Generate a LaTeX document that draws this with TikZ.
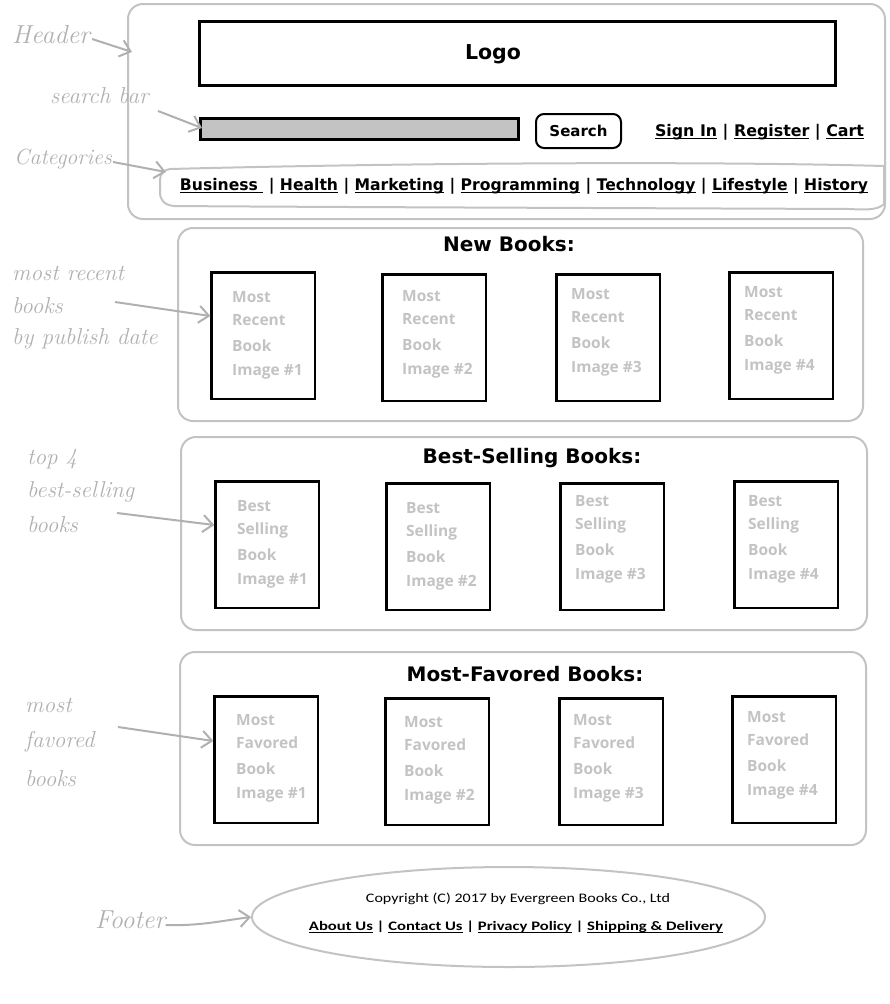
\documentclass[tikz,border=0pt]{standalone}
\usepackage{graphicx}
\usepackage{fontspec}
\setmainfont{Open Sans}
\newfontfamily\djfont{DejaVu Sans}
\newfontfamily\carlfont{Carlito}
\newfontfamily\annfont{Latin Modern Roman}
\usetikzlibrary{arrows.meta,shapes.geometric}
\definecolor{lg}{HTML}{C3C3C3}
\definecolor{ann}{HTML}{B0B0B0}
\newsavebox\lnkbox
\newcommand\lnk[1]{\sbox\lnkbox{#1}\rlap{\rule[-2.6pt]{\wd\lnkbox}{1.3pt}}\usebox\lnkbox}
\newcommand\flnk[1]{\sbox\lnkbox{#1}\rlap{\rule[-2.2pt]{\wd\lnkbox}{1.1pt}}\usebox\lnkbox}
\newcommand\bookbox[8]{%
  \node[imgbox, anchor=north west] (#1) at (#2+1.4,#3+1.4) {};
  \node[imgtxt] (#1a) at (#4,#5+6) {#6};
  \node[imgtxt] (#1b) at (#4,#5+29) {#7};
  \node[imgtxt] (#1c) at (#4,#5+55) {Book};
  \node[imgtxt] (#1d) at (#4,#5+79) {Image \##8};
}
\begin{document}
\begin{tikzpicture}[x=1pt,y=-1pt,
  panel/.style={draw=lg, line width=2pt, rounded corners=15pt, inner sep=0pt},
  imgbox/.style={draw=black, line width=2.8pt, minimum width=103.2pt, minimum height=126.2pt, inner sep=0pt},
  imgtxt/.style={text=lg, font=\bfseries\fontsize{15.5}{16}\selectfont, anchor=base west, inner sep=0pt},
  title/.style={font=\djfont\bfseries\fontsize{20}{22}\selectfont, inner sep=0pt},
  anno/.style={text=ann, font=\annfont\itshape\fontsize{23}{24}\selectfont, anchor=west, inner sep=0pt},
  annarrow/.style={draw=ann, line width=2pt, -{Straight Barb[length=10pt,width=17pt,line width=2pt]}},
  sketch/.style={draw=lg, line width=2pt}
]
\useasboundingbox (0,0) rectangle (890,1004);

% ---------- header ----------
\node[panel, anchor=north west, minimum width=757pt, minimum height=215pt] (hdr) at (127,3) {};
\node[draw=black, line width=2.8pt, minimum width=636pt, minimum height=64pt, inner sep=0pt] (logo) at (517.5,53.5) {};
\node[inner sep=0pt, font=\djfont\bfseries\fontsize{20.5}{22}\selectfont] (logot) at (493,54) {Logo};
\node[draw=black, fill=lg, line width=2.8pt, minimum width=318pt, minimum height=21pt, inner sep=0pt] (sbar) at (359.5,129) {};
\node[draw=black, line width=2pt, rounded corners=8pt, minimum width=85pt, minimum height=34pt, inner sep=0pt,
      font=\djfont\bfseries\fontsize{15}{16}\selectfont] (sbtn) at (578.5,131) {Search};
\node[inner sep=0pt, font=\djfont\bfseries\fontsize{16}{18}\selectfont] (acct) at (759.5,132)
  {\resizebox{209pt}{\height}{\lnk{Sign In} | \lnk{Register} | \lnk{Cart}}};
\draw[sketch] (170,169) .. controls (400,163) and (700,161) .. (884,166)
  -- (884,204) .. controls (878,210) and (866,210) .. (850,209)
  .. controls (600,208) and (300,207) .. (174,206)
  .. controls (164,205) and (160,200) .. (160,192) -- (160,180)
  .. controls (160,173) and (164,170) .. (170,169);
\node[inner sep=0pt, font=\djfont\bfseries\fontsize{16}{18}\selectfont] (cats) at (524,186)
  {\resizebox{688pt}{\height}{\lnk{Business\ } | \lnk{Health} | \lnk{Marketing} | \lnk{Programming} | \lnk{Technology} | \lnk{Lifestyle} | \lnk{History}}};

% ---------- new books ----------
\node[panel, anchor=north west, minimum width=685pt, minimum height=193pt] (newp) at (177,227) {};
\node[title] (newt) at (509,244) {New Books:};
\bookbox{nb1}{209}{270}{232}{296}{Most}{Recent}{1}
\bookbox{nb2}{380}{272}{402}{295}{Most}{Recent}{2}
\bookbox{nb3}{554}{272}{571}{293}{Most}{Recent}{3}
\bookbox{nb4}{727}{270}{744}{291}{Most}{Recent}{4}

% ---------- best selling ----------
\node[panel, anchor=north west, minimum width=686pt, minimum height=193pt] (bestp) at (180,436) {};
\node[title] (bestt) at (532,458) {Best-Selling Books:};
\bookbox{bs1}{213}{479}{237}{505}{Best}{Selling}{1}
\bookbox{bs2}{384}{481}{406}{507}{Best}{Selling}{2}
\bookbox{bs3}{558}{481}{575}{500}{Best}{Selling}{3}
\bookbox{bs4}{732}{479}{748}{500}{Best}{Selling}{4}

% ---------- most favored ----------
\node[panel, anchor=north west, minimum width=686pt, minimum height=193pt] (favp) at (179,651) {};
\node[title] (favt) at (525,674) {Most-Favored Books:};
\bookbox{fv1}{212}{694}{236}{719}{Most}{Favored}{1}
\bookbox{fv2}{383}{696}{404}{721}{Most}{Favored}{2}
\bookbox{fv3}{557}{696}{573}{719}{Most}{Favored}{3}
\bookbox{fv4}{730}{694}{747}{716}{Most}{Favored}{4}

% ---------- footer ----------
\node[ellipse, draw=lg, line width=2pt, minimum width=513pt, minimum height=100pt, inner sep=0pt] (foot) at (508.5,917) {};
\node[inner sep=0pt, font=\carlfont\fontsize{13}{15}\selectfont] (copy) at (518,899)
  {\resizebox{304pt}{\height}{Copyright (C) 2017 by Evergreen Books Co., Ltd}};
\node[inner sep=0pt, font=\carlfont\bfseries\fontsize{13}{15}\selectfont] (flinks) at (516,927)
  {\resizebox{414pt}{\height}{\flnk{About Us} | \flnk{Contact Us} | \flnk{Privacy Policy} | \flnk{Shipping \& Delivery}}};

% ---------- annotations ----------
\node[anno, font=\annfont\itshape\fontsize{26}{26}\selectfont] (lhdr) at (12,35) {Header};
\coordinate (thdr) at (132,52);
\draw[annarrow] (lhdr.east) ++(2,4) -- (thdr);

\node[anno] (lsb) at (50,96) {search bar};
\coordinate (tsb) at (202,128);
\draw[annarrow] (158,111) -- (tsb);

\node[anno, font=\annfont\itshape\fontsize{22}{24}\selectfont] (lcat) at (14,159) {Categories};
\coordinate (tcat) at (166,172);
\draw[annarrow] (lcat.east) ++(1,3) -- (tcat);

\node[anno] (lrec1) at (12,273) {most recent};
\node[anno] (lrec2) at (12,306) {books};
\node[anno] (lrec3) at (12,339) {by publish date};
\coordinate (trec) at (nb1.west |- 0,316);
\draw[annarrow] (115,302) -- (trec);

\node[anno] (lbs1) at (27,459) {top 4};
\node[anno] (lbs2) at (27,492) {best-selling};
\node[anno] (lbs3) at (27,525) {books};
\coordinate (tbs) at (bs1.west |- 0,525);
\draw[annarrow] (117,513) -- (tbs);

\node[anno] (lfv1) at (25,705) {most};
\node[anno] (lfv2) at (25,742) {favored};
\node[anno] (lfv3) at (25,779) {books};
\coordinate (tfv) at (fv1.west |- 0,741);
\draw[annarrow] (118,727) -- (tfv);

\node[anno, font=\annfont\itshape\fontsize{26}{26}\selectfont] (lft) at (95,920) {Footer};
\draw[annarrow] (lft.east) ++(0,5) .. controls (200,926) and (220,921) .. (foot.west);
\end{tikzpicture}
\end{document}
